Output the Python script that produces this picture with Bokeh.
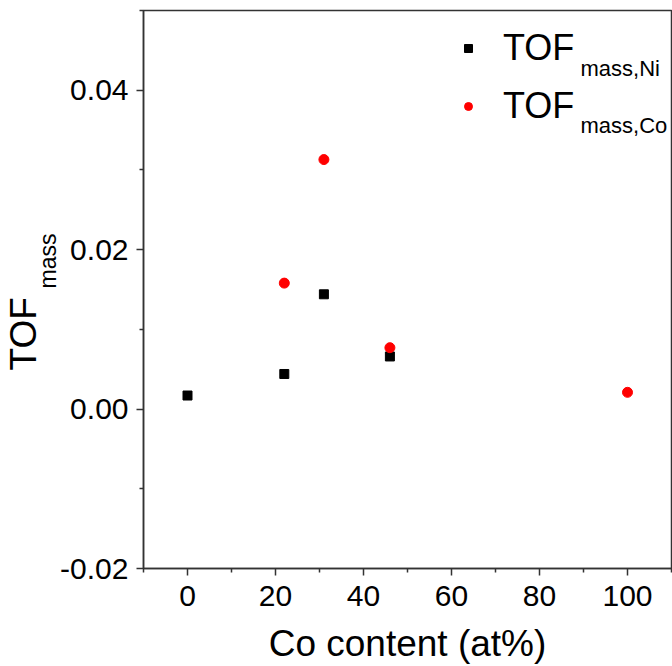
from bokeh.plotting import figure
from bokeh.models import (Range1d, FixedTicker, PrintfTickFormatter, Label, Legend, LegendItem, Title)
from bokeh.embed import file_html
from bokeh.resources import INLINE

# data
ni_co_content = [0, 22, 31, 46]
ni_tof = [0.0017, 0.0044, 0.0144, 0.0066]
co_co_content = [22, 31, 46, 100]
co_tof = [0.0158, 0.0313, 0.0077, 0.0021]
x_ticks = [0, 20, 40, 60, 80, 100]
y_ticks = [-0.02, 0.0, 0.02, 0.04]

FONT = "Liberation Sans"

p = figure(width=672, height=666, output_backend="svg", toolbar_location=None,
           x_range=Range1d(-10, 110), y_range=Range1d(-0.02, 0.05),
           min_border_left=143, min_border_right=1, min_border_top=10, min_border_bottom=98)
p.xgrid.visible = False
p.ygrid.visible = False
p.background_fill_color = "white"
p.border_fill_color = "white"
p.outline_line_color = "#333333"
p.outline_line_width = 1.5

r_ni = p.scatter(ni_co_content, ni_tof, marker="square", size=9, color="black")
r_co = p.scatter(co_co_content, co_tof, marker="circle", size=10, color="#ff0000")

for ax, ticks, fmt in ((p.xaxis[0], x_ticks, "%d"), (p.yaxis[0], y_ticks, "%.2f")):
    step = ticks[1] - ticks[0]
    ax.ticker = FixedTicker(ticks=ticks, minor_ticks=[t + step / 2 for t in [ticks[0] - step] + ticks])
    ax.formatter = PrintfTickFormatter(format=fmt)
    ax.axis_line_color = "#333333"
    ax.axis_line_width = 1.5
    ax.major_tick_line_color = "#333333"
    ax.minor_tick_line_color = "#333333"
    ax.major_tick_line_width = 1.5
    ax.minor_tick_line_width = 1.5
    ax.major_tick_in = 0
    ax.major_tick_out = 7
    ax.minor_tick_in = 0
    ax.minor_tick_out = 4
    ax.major_label_text_font = FONT
    ax.major_label_text_font_size = "30px"
    ax.major_label_text_color = "black"
    ax.major_label_standoff = 8

p.xaxis[0].major_label_standoff = 10
p.xaxis[0].axis_label = "Co content (at%)"
p.xaxis[0].axis_label_text_font = FONT
p.xaxis[0].axis_label_text_font_size = "37px"
p.xaxis[0].axis_label_text_font_style = "normal"
p.xaxis[0].axis_label_text_color = "black"
p.xaxis[0].axis_label_standoff = 14

legend = Legend(items=[LegendItem(label="TOF", renderers=[r_ni]),
                       LegendItem(label="TOF", renderers=[r_co])],
                location=(315, 441), orientation="vertical",
                label_text_font=FONT, label_text_font_size="36px", label_text_color="black",
                glyph_width=20, glyph_height=20, label_standoff=25, spacing=16,
                padding=0, margin=0, border_line_color=None, background_fill_alpha=0)
p.add_layout(legend, "center")

sub_font = "22px"
p.add_layout(Label(x=437, y=500, x_units="screen", y_units="screen", text="mass,Ni",
                   text_font=FONT, text_font_size=sub_font, text_color="black",
                   text_baseline="alphabetic"))
p.add_layout(Label(x=437, y=443, x_units="screen", y_units="screen", text="mass,Co",
                   text_font=FONT, text_font_size=sub_font, text_color="black",
                   text_baseline="alphabetic"))

# y axis title: TOF with subscript "mass"
p.add_layout(Title(text="mass", text_font=FONT, text_font_size="23px", text_font_style="normal",
                   text_color="black", align="left", offset=280, standoff=-6), "left")
p.add_layout(Title(text="TOF", text_font=FONT, text_font_size="37px", text_font_style="normal",
                   text_color="black", align="left", offset=198, standoff=-17), "left")

open("out.html", "w").write(file_html(p, INLINE))
